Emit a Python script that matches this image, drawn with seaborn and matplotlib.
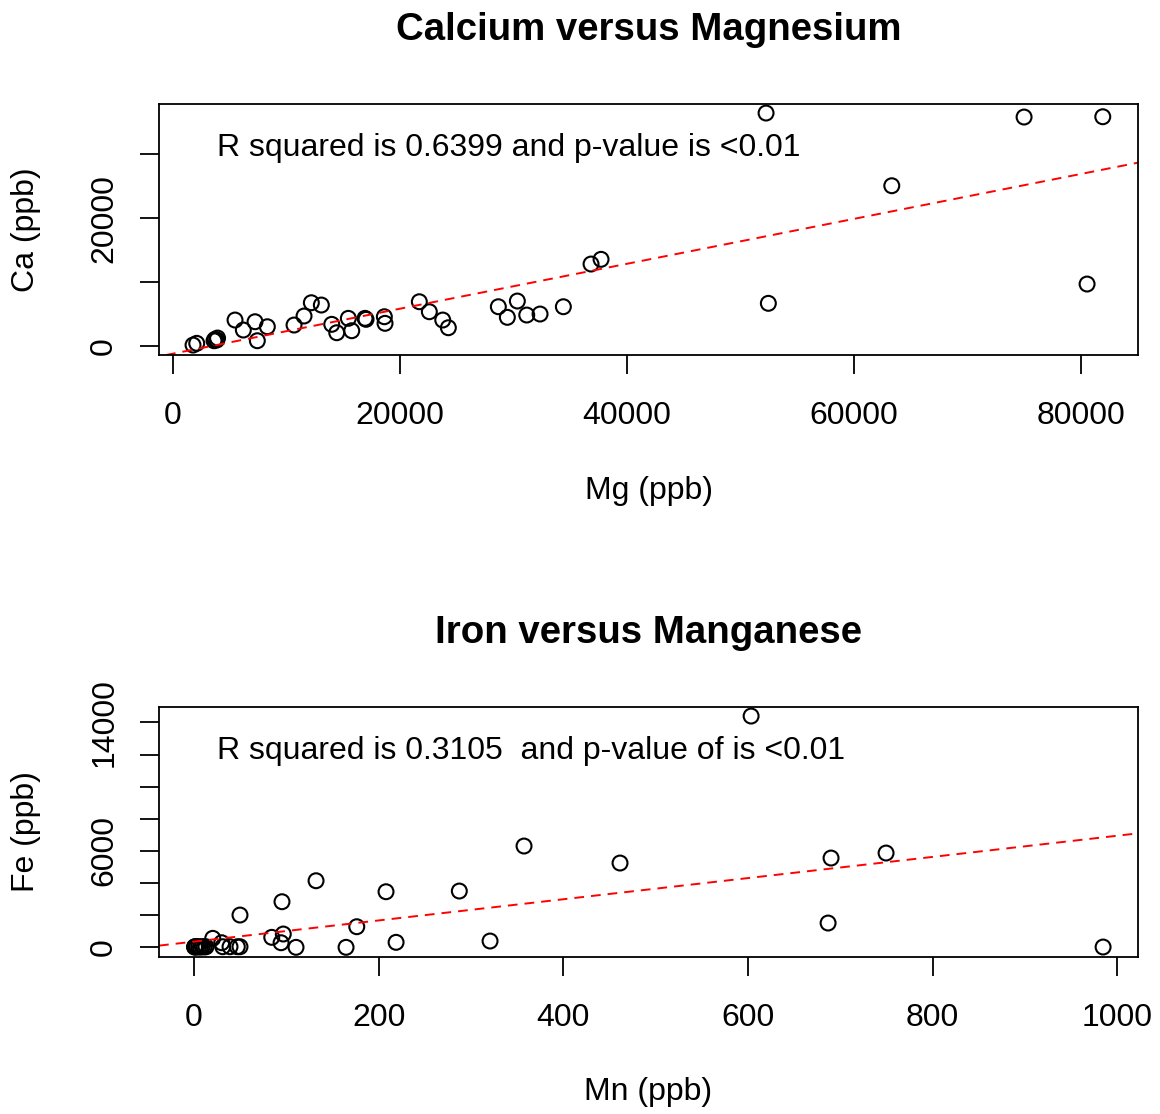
import numpy as np
import pandas as pd
import matplotlib
matplotlib.use("Agg")
import matplotlib.pyplot as plt
import seaborn as sns

# values
mg = [1762, 2088, 3612, 3700, 3850, 3921, 5463, 6194, 7225, 7427, 8308,
      10661, 11542, 12185, 13066, 13982, 14423, 15445, 15745, 16916, 17004,
      18617, 18678, 21700, 22581, 23762, 24256, 28661, 29454, 30335, 31163,
      32335, 34388, 36828, 37709, 52449, 52247, 74978, 81912, 63322, 80529]
ca = [200, 470, 875, 1094, 984, 1297, 4109, 2547, 3844, 875, 3063,
      3328, 4734, 6813, 6453, 3438, 2125, 4375, 2438, 4375, 4219,
      4625, 3594, 6969, 5406, 4109, 2906, 6188, 4531, 7078, 4891,
      5047, 6188, 12859, 13594, 6719, 36453, 35828, 35875, 25094, 9734]

mn = [603.5, 357.5, 461.5, 690.1, 749.7, 132.2, 208.0, 287.4, 95.3, 49.8,
      176.3, 686.9, 84.2, 96.7, 94.3, 110.5, 164.7, 218.9, 320.7, 984.8,
      20.3, 30.0, 31.1, 39.0, 46.9, 49.8,
      0.5, 1, 2, 3, 5, 7, 9, 11, 13]
fe = [14393, 6304, 5246, 5557, 5868, 4144, 3460, 3503, 2838, 2010,
      1282, 1512, 622, 828, 286, 0, 0, 311, 392, 19,
      560, 286, 37, 37, 37, 37,
      20, 40, 10, 50, 30, 15, 45, 25, 35]

# fitted lines (intercept, slope)
fit_ca = (-1140, 0.351)
fit_fe = (356, 6.589)

ca_xticks = [0, 20000, 40000, 60000, 80000]
ca_yticks = [0, 10000, 20000, 30000]
ca_ylabels = ["0", "", "20000", ""]
fe_xticks = [0, 200, 400, 600, 800, 1000]
fe_yticks = [0, 2000, 4000, 6000, 8000, 10000, 12000, 14000]
fe_ylabels = ["0", "", "", "6000", "", "", "", "14000"]

df_ca = pd.DataFrame({"Mg": mg, "Ca": ca})
df_fe = pd.DataFrame({"Mn": mn, "Fe": fe})

sns.set_theme(style="ticks")
plt.rcParams["font.family"] = ["Liberation Sans", "DejaVu Sans"]
plt.rcParams["text.color"] = "black"
plt.rcParams["axes.labelcolor"] = "black"

fig = plt.figure(figsize=(11.6, 11.14), dpi=100)
ax1 = fig.add_axes([0.1371, 0.6813, 0.8440, 0.2253])
ax2 = fig.add_axes([0.1371, 0.1409, 0.8440, 0.2244])

panels = [
    (ax1, df_ca, "Mg", "Ca", fit_ca, "Calcium versus Magnesium",
     "Mg (ppb)", "Ca (ppb)", "R squared is 0.6399 and p-value is <0.01",
     (-1233, 85022), (-1359, 37859), ca_xticks, ca_yticks, ca_ylabels),
    (ax2, df_fe, "Mn", "Fe", fit_fe, "Iron versus Manganese",
     "Mn (ppb)", "Fe (ppb)", "R squared is 0.3105  and p-value of is <0.01",
     (-37.9, 1022.7), (-604, 14953), fe_xticks, fe_yticks, fe_ylabels),
]

for ax, d, xc, yc, fit, title, xl, yl, note, xlim, ylim, xt, yt, ytl in panels:
    sns.scatterplot(data=d, x=xc, y=yc, ax=ax, s=115, marker="o",
                    facecolors="none", edgecolor="black", linewidths=1.5)
    ax.axline((0, fit[0]), slope=fit[1], color="red", lw=1.4,
              linestyle=(0, (5, 3.6)))
    ax.set_xlim(*xlim)
    ax.set_ylim(*ylim)
    ax.set_xticks(xt)
    ax.set_xticklabels([str(v) for v in xt])
    ax.set_yticks(yt)
    ax.set_yticklabels(ytl, rotation=90, va="center")
    ax.tick_params(direction="out", length=13.7, width=1.3, labelsize=23,
                   color="black", labelcolor="black")
    ax.tick_params(axis="x", pad=19.5)
    ax.tick_params(axis="y", pad=15)
    for sp in ax.spines.values():
        sp.set_visible(True)
        sp.set_color("black")
        sp.set_linewidth(1.3)
    ax.set_xlabel(xl, fontsize=23)
    ax.xaxis.set_label_coords(0.5, -0.54)
    ax.xaxis.label.set_va("center")
    ax.set_ylabel(yl, fontsize=23)
    ax.yaxis.set_label_coords(-0.136, 0.5)
    ax.yaxis.label.set_va("center")
    ax.set_title(title, fontsize=27.6, fontweight="bold", y=1.295, pad=0,
                 va="center")
    ax.text(0.0592, 0.826, note, transform=ax.transAxes, fontsize=23,
            ha="left", va="center")

plt.savefig("out.png", dpi=100)
